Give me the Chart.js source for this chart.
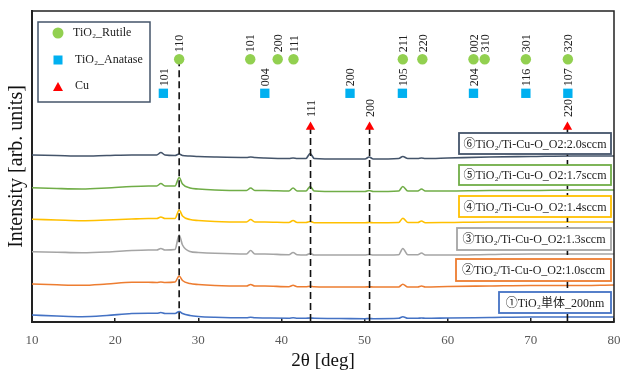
<!DOCTYPE html>
<html>
<head>
<meta charset="utf-8">
<script src="https://cdn.jsdelivr.net/npm/chart.js@4.4.0/dist/chart.umd.min.js"></script>
<style>
  html, body { margin: 0; padding: 0; background: #fff; }
  #wrap { width: 621px; height: 374px; }
</style>
</head>
<body>
<div id="wrap"><canvas id="xrd" width="621" height="374"></canvas></div>
<script>
// -----------------------------
// Scan data (2θ in deg, intensity in arb. units, already offset per sample)
// -----------------------------
const angles = [10, 13, 16, 19, 22, 24, 25.0, 25.5, 26.0, 27.2, 27.7, 28.1, 29.0, 30, 32,
  35.8, 36.3, 36.8, 38, 40.9, 41.4, 41.9, 42.95, 43.45, 43.95, 47, 50.05, 50.55, 51.05,
  54.1, 54.6, 55.2, 56.4, 56.85, 57.3, 60, 65, 70, 75, 80];

const s6 = [167, 166.5, 166, 166.5, 167, 167, 167, 169.5, 167, 166.5, 168, 166.5, 166, 165.5, 165,
  164.5, 165, 164.5, 164, 163.5, 164, 163.5, 163.5, 168.5, 163.5, 163, 163, 165, 163,
  163.5, 165.5, 163.5, 163.5, 164, 163.5, 164, 165, 165.5, 166, 166];
const s5 = [134.3, 133.5, 133, 134, 135.5, 136, 136, 138.5, 136, 136, 144.5, 138, 134, 133, 132,
  131.5, 134, 131.5, 131.5, 131, 134, 131, 131, 135.5, 131, 130.5, 130.5, 131.5, 130.5,
  131, 135.5, 131, 131, 133, 131, 131, 131.5, 131.5, 132, 132];
const s4 = [102.7, 102, 101.3, 102, 103, 103.5, 103.5, 105, 103.5, 103.5, 112, 106, 102.5, 101.5, 100.5,
  100, 102.5, 100, 100, 99.5, 101.5, 99.5, 99.5, 100.5, 99.3, 99.3, 99.3, 99.5, 99.3,
  99.5, 103.8, 99.5, 99.5, 101, 99.3, 99.5, 100, 100, 100, 100];
const s3 = [70.3, 69.8, 69.3, 70, 71.5, 72, 72, 73.5, 72, 72.5, 87, 77, 70.5, 69.5, 68.7,
  68, 71.5, 68, 68, 67.3, 69.5, 67.3, 67, 68.5, 67, 67, 67, 67.5, 67,
  67.3, 73.5, 67.3, 67.3, 69, 67, 67, 67.5, 68, 68, 68];
const s2 = [38, 37.2, 36.7, 38, 39.7, 39.8, 39.5, 40, 39.5, 40, 46, 41.5, 38.5, 37.5, 36.5,
  36, 37.5, 36, 36, 35.3, 36.7, 35.3, 35.3, 35.8, 35.3, 35, 35, 35.3, 35,
  35, 37.8, 35, 35, 36, 35, 35.5, 36, 36.5, 36.5, 37];
const s1 = [7, 6, 5.3, 6.5, 8.5, 8.7, 8.7, 9.5, 8.5, 8.5, 10.5, 8.5, 6.5, 5.5, 4.7,
  4.2, 4.8, 4.2, 4, 3.8, 4.2, 3.8, 3.7, 4, 3.7, 3.5, 3.3, 3.5, 3.3,
  3.7, 5.3, 3.7, 3.7, 4, 3.7, 4, 4.5, 5, 5, 5];

const sampleSeries = [s1, s2, s3, s4, s5, s6];
const sampleNames = ['①TiO₂単体_200nm', '②TiO₂/Ti-Cu-O_O2:1.0sccm', '③TiO₂/Ti-Cu-O_O2:1.3sccm',
  '④TiO₂/Ti-Cu-O_O2:1.4sccm', '⑤TiO₂/Ti-Cu-O_O2:1.7sccm', '⑥TiO₂/Ti-Cu-O_O2:2.0sccm'];
const sampleColors = ['#4472c4', '#ed7d31', '#a5a5a5', '#ffc000', '#70ad47', '#44546a'];

// -----------------------------
// Reference peak positions
// -----------------------------
const rutilePos = [27.7, 36.25, 39.55, 41.45, 54.6, 56.95, 63.1, 64.45, 69.4, 74.45];
const rutileHkl = ['110', '101', '200', '111', '211', '220', '002', '310', '301', '320'];
const anatasePos = [25.8, 38.0, 48.25, 54.55, 63.1, 69.4, 74.45];
const anataseHkl = ['101', '004', '200', '105', '204', '116', '107'];
const cuPos = [43.5, 50.6, 74.4];
const cuHkl = ['111', '200', '220'];
const dashPos = [27.7, 43.5, 50.6, 74.4];

const xTicks = [10, 20, 30, 40, 50, 60, 70, 80];

// marker rows (y in the same arb. units)
const RUTILE_Y = 262.7, ANATASE_Y = 228.7, CU_Y = 195;
const SERIF = "'Liberation Serif', 'Noto Sans CJK JP', serif";

// -----------------------------
// Datasets
// -----------------------------
const pts = (xs, ys) => xs.map((x, i) => ({ x: x, y: Array.isArray(ys) ? ys[i] : ys }));

const datasets = [];
datasets.push({ data: pts(rutilePos, RUTILE_Y), showLine: false, pointStyle: 'circle', pointRadius: 5.2,
  pointBackgroundColor: '#92d050', pointBorderWidth: 0, order: 0 });
datasets.push({ data: pts(anatasePos, ANATASE_Y), showLine: false, pointStyle: 'rect', pointRadius: 6.6,
  pointBackgroundColor: '#00b0f0', pointBorderWidth: 0, order: 0 });
datasets.push({ data: pts(cuPos, CU_Y), showLine: false, pointStyle: 'triangle', pointRadius: 5.4,
  pointBackgroundColor: '#ff0000', pointBorderWidth: 0, order: 0 });

dashPos.forEach((p, i) => {
  datasets.push({ data: [{ x: p, y: i === 0 ? RUTILE_Y : CU_Y }, { x: p, y: 0 }],
    borderColor: '#111', borderWidth: 1.6, borderDash: [7, 4], pointRadius: 0, order: 1 });
});

sampleSeries.forEach((s, i) => {
  datasets.push({ data: pts(angles, s), borderColor: sampleColors[i], borderWidth: 1.6,
    pointRadius: 0, cubicInterpolationMode: 'monotone', order: 2 });
});

// -----------------------------
// Plugins: peak labels, sample boxes, legend, frame
// -----------------------------
const peakLabels = {
  id: 'peakLabels',
  afterDatasetsDraw(chart) {
    const { ctx, scales: { x, y } } = chart;
    const groups = [[rutilePos, rutileHkl, RUTILE_Y, 7], [anatasePos, anataseHkl, ANATASE_Y, 7], [cuPos, cuHkl, CU_Y, 10]];
    ctx.save();
    ctx.fillStyle = '#222';
    ctx.font = '12px ' + SERIF;
    ctx.textAlign = 'left';
    ctx.textBaseline = 'middle';
    groups.forEach(([pos, lab, lvl, off]) => {
      pos.forEach((p, i) => {
        ctx.save();
        ctx.translate(x.getPixelForValue(p) + 1, y.getPixelForValue(lvl) - off);
        ctx.rotate(-Math.PI / 2);
        ctx.fillText(lab[i], 0, 0);
        ctx.restore();
      });
    });
    ctx.restore();
  }
};

// box rectangles for ① .. ⑥
const boxRects = [[499, 292, 112, 21], [456, 259, 155, 22], [457, 228, 154, 22],
  [459, 196, 152, 21], [459, 165, 152, 20], [459, 133, 152, 21]];

const sampleBoxes = {
  id: 'sampleBoxes',
  afterDatasetsDraw(chart) {
    const ctx = chart.ctx;
    ctx.save();
    ctx.font = '12px ' + SERIF;
    ctx.textAlign = 'center';
    ctx.textBaseline = 'middle';
    boxRects.forEach((r, i) => {
      ctx.fillStyle = '#fff';
      ctx.fillRect(r[0], r[1], r[2], r[3]);
      ctx.strokeStyle = sampleColors[i];
      ctx.lineWidth = 1.8;
      ctx.strokeRect(r[0], r[1], r[2], r[3]);
      ctx.fillStyle = '#222';
      ctx.fillText(sampleNames[i], r[0] + r[2] / 2, r[1] + r[3] / 2 + 1);
    });
    ctx.restore();
  }
};

const legendBox = {
  id: 'legendBox',
  afterDraw(chart) {
    const ctx = chart.ctx;
    ctx.save();
    ctx.fillStyle = '#fff';
    ctx.fillRect(38, 22, 112, 80);
    ctx.strokeStyle = '#44546a';
    ctx.lineWidth = 1.5;
    ctx.strokeRect(38, 22, 112, 80);
    // circle
    ctx.fillStyle = '#92d050';
    ctx.beginPath(); ctx.arc(58, 33, 5.5, 0, Math.PI * 2); ctx.fill();
    // square
    ctx.fillStyle = '#00b0f0';
    ctx.fillRect(53.5, 55.5, 9, 9);
    // triangle
    ctx.fillStyle = '#ff0000';
    ctx.beginPath(); ctx.moveTo(58, 82); ctx.lineTo(63, 91); ctx.lineTo(53, 91); ctx.closePath(); ctx.fill();
    ctx.fillStyle = '#222';
    ctx.font = '12px ' + SERIF;
    ctx.textAlign = 'left';
    ctx.textBaseline = 'middle';
    ctx.fillText('TiO₂_Rutile', 73, 33);
    ctx.fillText('TiO₂_Anatase', 75, 60);
    ctx.fillText('Cu', 75, 86);
    ctx.restore();
  }
};

const frame = {
  id: 'frame',
  afterDraw(chart) {
    const { ctx, chartArea: a } = chart;
    ctx.save();
    ctx.strokeStyle = '#222';
    ctx.lineWidth = 1.5;
    ctx.beginPath();
    ctx.moveTo(a.left, a.top);
    ctx.lineTo(a.right, a.top);
    ctx.lineTo(a.right, a.bottom);
    ctx.stroke();
    ctx.restore();
  }
};

// -----------------------------
// Chart
// -----------------------------
new Chart(document.getElementById('xrd').getContext('2d'), {
  type: 'line',
  data: { datasets: datasets },
  options: {
    responsive: false,
    animation: false,
    layout: { padding: { top: 11, right: 7, left: 0, bottom: 0 } },
    plugins: { legend: { display: false }, tooltip: { enabled: false } },
    scales: {
      x: {
        type: 'linear', min: 10, max: 80,
        afterFit: s => { s.height = 52; s.paddingLeft = 0; s.paddingRight = 0; },
        afterBuildTicks: s => { s.ticks = xTicks.map(v => ({ value: v })); },
        grid: { drawOnChartArea: false, drawTicks: true, tickLength: -4, color: '#222', lineWidth: 1.5 },
        border: { display: true, color: '#222', width: 2 },
        ticks: { color: '#595959', padding: 15, font: { family: SERIF, size: 13 } },
        title: { display: true, text: '2θ [deg]', color: '#111', padding: { top: 0, bottom: 2 },
          font: { family: SERIF, size: 19 } }
      },
      y: {
        min: 0, max: 311,
        afterFit: s => { s.width = 32; s.paddingTop = 0; s.paddingBottom = 0; },
        grid: { display: false },
        border: { display: true, color: '#222', width: 2 },
        ticks: { display: false },
        title: { display: true, text: 'Intensity [arb. units]', color: '#111', padding: { top: 5, bottom: 0 },
          font: { family: SERIF, size: 20 } }
      }
    }
  },
  plugins: [peakLabels, sampleBoxes, legendBox, frame]
});
</script>
</body>
</html>
